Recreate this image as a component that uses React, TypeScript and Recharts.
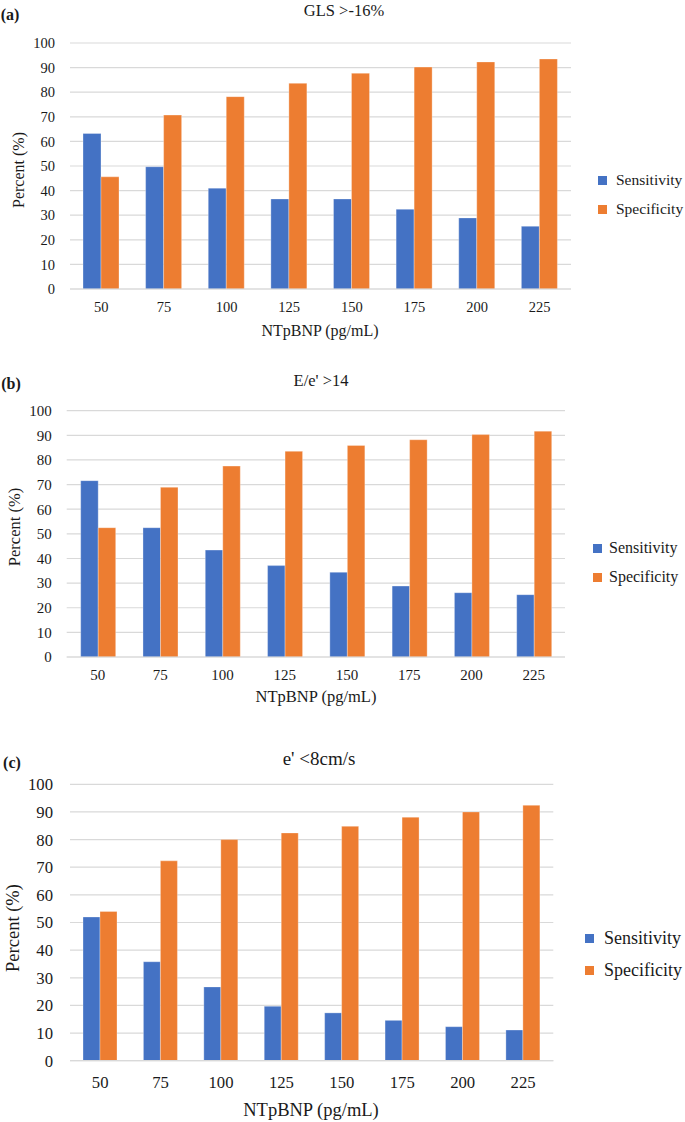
import React from "react";
import { Bar, BarChart, CartesianGrid, XAxis, YAxis } from "recharts";

// NT-proBNP cut-offs (pg/mL)
const cutoffs = ["50", "75", "100", "125", "150", "175", "200", "225"];
const yTicks = [0, 10, 20, 30, 40, 50, 60, 70, 80, 90, 100];

const seriesNames = ["Sensitivity", "Specificity"];
const seriesColors = ["#4472C4", "#ED7D31"];

// (a) GLS >-16%
const glsSensitivity = [63.2, 49.7, 41.0, 36.6, 36.6, 32.4, 28.9, 25.5];
const glsSpecificity = [45.6, 70.7, 78.2, 83.6, 87.7, 90.2, 92.3, 93.5];

// (b) E/e' >14
const eeSensitivity = [71.6, 52.5, 43.4, 37.1, 34.4, 28.8, 26.1, 25.3];
const eeSpecificity = [52.5, 68.9, 77.5, 83.5, 85.9, 88.2, 90.3, 91.7];

// (c) e' <8cm/s
const ePrimeSensitivity = [52.0, 35.8, 26.7, 19.7, 17.3, 14.6, 12.3, 11.1];
const ePrimeSpecificity = [54.0, 72.3, 80.0, 82.4, 84.8, 88.1, 90.0, 92.4];

const FONT = '"Liberation Serif", "Times New Roman", serif';
const INK = "#1a1a1a";
const GRID = "#d9d9d9";

type Pt = { x: number; y: number };

type PanelCfg = {
  letter: string;
  title: string;
  top: number;
  height: number;
  plot: { top: number; bottom: number; left: number; right: number };
  barSize: number;
  tickFont: number;
  yTickGap: number;
  xTickGap: number;
  letterPos: Pt;
  titlePos: Pt;
  titleFont: number;
  xTitlePos: Pt;
  yTitlePos: Pt;
  axisTitleFont: number;
  legendSquare: number;
  legendText: number;
  legendRows: number[];
  legendFont: number;
};

const panels: PanelCfg[] = [
  {
    letter: "(a)",
    title: "GLS >-16%",
    top: 0,
    height: 340,
    plot: { top: 43, bottom: 289, left: 70, right: 571 },
    barSize: 18,
    tickFont: 14.5,
    yTickGap: 15,
    xTickGap: 13,
    letterPos: { x: 10, y: 14.5 },
    titlePos: { x: 344, y: 11 },
    titleFont: 16.5,
    xTitlePos: { x: 320, y: 331 },
    yTitlePos: { x: 18.5, y: 170 },
    axisTitleFont: 16,
    legendSquare: 598,
    legendText: 616,
    legendRows: [180, 209],
    legendFont: 15.5
  },
  {
    letter: "(b)",
    title: "E/e' >14",
    top: 340,
    height: 370,
    plot: { top: 70.7, bottom: 317, left: 66.7, right: 565 },
    barSize: 17.5,
    tickFont: 15,
    yTickGap: 15,
    xTickGap: 12.5,
    letterPos: { x: 11, y: 383.5 },
    titlePos: { x: 321, y: 381 },
    titleFont: 16.5,
    xTitlePos: { x: 316, y: 697 },
    yTitlePos: { x: 14.5, y: 527 },
    axisTitleFont: 16.5,
    legendSquare: 593,
    legendText: 609,
    legendRows: [548, 577],
    legendFont: 16
  },
  {
    letter: "(c)",
    title: "e' <8cm/s",
    top: 720,
    height: 402,
    plot: { top: 64.3, bottom: 340.7, left: 70, right: 553.3 },
    barSize: 17,
    tickFont: 16.7,
    yTickGap: 17,
    xTickGap: 15.5,
    letterPos: { x: 12, y: 763 },
    titlePos: { x: 319, y: 758 },
    titleFont: 19,
    xTitlePos: { x: 311, y: 1110 },
    yTitlePos: { x: 12.5, y: 928 },
    axisTitleFont: 18.5,
    legendSquare: 585,
    legendText: 604,
    legendRows: [938, 970],
    legendFont: 18
  }
];

function Txt(props: { pos: Pt; size: number; bold?: boolean; rotate?: boolean; children: React.ReactNode }) {
  return (
    <div
      style={{
        position: "absolute",
        left: props.pos.x,
        top: props.pos.y,
        transform: `translate(-50%, -50%)${props.rotate ? " rotate(-90deg)" : ""}`,
        fontFamily: FONT,
        fontSize: props.size,
        fontWeight: props.bold ? 700 : 400,
        color: INK,
        whiteSpace: "nowrap",
        lineHeight: 1
      }}
    >
      {props.children}
    </div>
  );
}

function Panel({ cfg, sens, spec }: { cfg: PanelCfg; sens: number[]; spec: number[] }) {
  const data = cutoffs.map((c, i) => ({ c, sens: sens[i], spec: spec[i] }));
  const w = 600;
  const yW = 40;
  const xH = 20;
  const p = cfg.plot;
  const tick = { fill: INK, fontSize: cfg.tickFont, fontFamily: FONT };

  return (
    <>
      <div style={{ position: "absolute", left: 0, top: cfg.top, width: w, height: cfg.height }}>
        <BarChart
          width={w}
          height={cfg.height}
          data={data}
          barGap={0}
          margin={{ top: p.top, left: p.left - yW, right: w - p.right, bottom: cfg.height - p.bottom - xH }}
        >
          <CartesianGrid vertical={false} stroke={GRID} strokeWidth={1.2} />
          <XAxis
            dataKey="c"
            height={xH}
            tick={tick}
            tickLine={false}
            tickSize={0}
            tickMargin={cfg.xTickGap}
            axisLine={{ stroke: GRID, strokeWidth: 1.2 }}
            interval={0}
          />
          <YAxis
            width={yW}
            domain={[0, 100]}
            ticks={yTicks}
            tick={tick}
            tickLine={false}
            tickSize={0}
            tickMargin={cfg.yTickGap}
            axisLine={false}
            interval={0}
          />
          <Bar dataKey="sens" name={seriesNames[0]} fill={seriesColors[0]} barSize={cfg.barSize}
            stroke="#ffffff" strokeOpacity={0.5} strokeWidth={0.6} isAnimationActive={false} />
          <Bar dataKey="spec" name={seriesNames[1]} fill={seriesColors[1]} barSize={cfg.barSize}
            stroke="#ffffff" strokeOpacity={0.5} strokeWidth={0.6} isAnimationActive={false} />
        </BarChart>
      </div>
      <Txt pos={cfg.letterPos} size={16} bold>{cfg.letter}</Txt>
      <Txt pos={cfg.titlePos} size={cfg.titleFont}>{cfg.title}</Txt>
      <Txt pos={cfg.xTitlePos} size={cfg.axisTitleFont}>NTpBNP (pg/mL)</Txt>
      <Txt pos={cfg.yTitlePos} size={cfg.axisTitleFont} rotate>Percent (%)</Txt>
      {seriesNames.map((name, i) => (
        <React.Fragment key={name}>
          <div
            style={{
              position: "absolute",
              left: cfg.legendSquare,
              top: cfg.legendRows[i] - 4.5,
              width: 9,
              height: 9,
              background: seriesColors[i]
            }}
          />
          <div
            style={{
              position: "absolute",
              left: cfg.legendText,
              top: cfg.legendRows[i],
              transform: "translateY(-50%)",
              fontFamily: FONT,
              fontSize: cfg.legendFont,
              color: INK,
              lineHeight: 1,
              whiteSpace: "nowrap"
            }}
          >
            {name}
          </div>
        </React.Fragment>
      ))}
    </>
  );
}

export default function App() {
  return (
    <div style={{ position: "relative", width: 685, height: 1122, background: "#fff", overflow: "hidden" }}>
      <style>{"body{margin:0;background:#fff}"}</style>
      <Panel cfg={panels[0]} sens={glsSensitivity} spec={glsSpecificity} />
      <Panel cfg={panels[1]} sens={eeSensitivity} spec={eeSpecificity} />
      <Panel cfg={panels[2]} sens={ePrimeSensitivity} spec={ePrimeSpecificity} />
    </div>
  );
}
